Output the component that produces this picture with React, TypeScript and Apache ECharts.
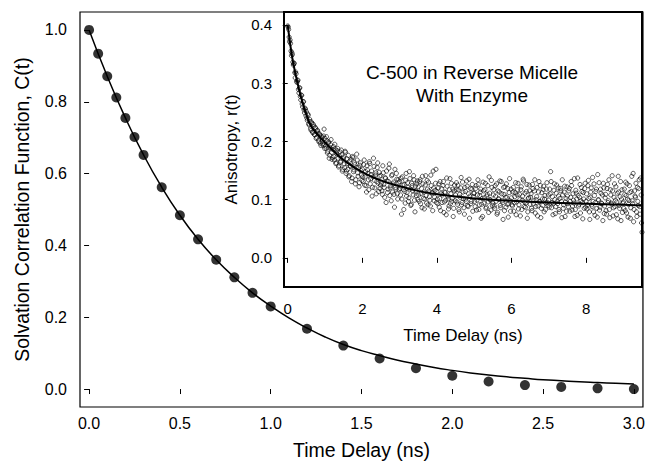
import React, { useEffect, useRef } from "react";
import * as echarts from "echarts";

// Main panel: solvation correlation function C(t)
const mainTimes = [0, 0.05, 0.1, 0.15, 0.2, 0.25, 0.3, 0.4, 0.5, 0.6, 0.7, 0.8, 0.9, 1.0, 1.2, 1.4, 1.6, 1.8, 2.0, 2.2, 2.4, 2.6, 2.8, 3.0];
const mainC = [1.0, 0.934, 0.871, 0.812, 0.755, 0.702, 0.652, 0.562, 0.484, 0.417, 0.36, 0.311, 0.268, 0.23, 0.168, 0.121, 0.085, 0.058, 0.037, 0.021, 0.011, 0.006, 0.002, 0.0];

const mainFitTimes = [0, 0.1, 0.2, 0.3, 0.4, 0.5, 0.6, 0.7, 0.8, 0.9, 1.0, 1.1, 1.2, 1.3, 1.4, 1.5, 1.6, 1.7, 1.8, 1.9, 2.0, 2.1, 2.2, 2.3, 2.4, 2.5, 2.6, 2.7, 2.8, 2.9, 3.0];
const mainFitC = [1.0, 0.871, 0.755, 0.652, 0.562, 0.484, 0.417, 0.36, 0.311, 0.268, 0.231, 0.198, 0.17, 0.145, 0.124, 0.107, 0.093, 0.08, 0.07, 0.06, 0.052, 0.045, 0.039, 0.034, 0.03, 0.026, 0.023, 0.02, 0.018, 0.016, 0.014];

const mainXTicks = [0, 0.5, 1.0, 1.5, 2.0, 2.5, 3.0];
const mainYTicks = [0, 0.2, 0.4, 0.6, 0.8, 1.0];

// Inset: anisotropy r(t), two interleaved sample sets, each every 0.025 ns
const anisoStep = 0.025;
const anisoStartA = 0;
const anisoStartB = 0.0125;
const anisoRA = [
  0.398, 0.392, 0.371, 0.368, 0.347, 0.349, 0.331, 0.334, 0.309, 0.316, 0.301, 0.305, 0.283, 0.292, 0.271, 0.279, 0.259, 0.268, 0.249, 0.255,
  0.251, 0.236, 0.245, 0.228, 0.234, 0.219, 0.231, 0.215, 0.226, 0.211, 0.222, 0.207, 0.219, 0.202, 0.213, 0.197, 0.209, 0.201, 0.193, 0.221,
  0.205, 0.188, 0.201, 0.183, 0.199, 0.176, 0.194, 0.181, 0.172, 0.191, 0.168, 0.187, 0.163, 0.184, 0.171, 0.158, 0.182, 0.166, 0.177, 0.152,
  0.173, 0.155, 0.181, 0.149, 0.162, 0.176, 0.141, 0.158, 0.169, 0.137, 0.172, 0.151, 0.16, 0.134, 0.178, 0.146, 0.155, 0.129, 0.163, 0.142,
  0.152, 0.131, 0.168, 0.139, 0.124, 0.158, 0.145, 0.117, 0.162, 0.136, 0.149, 0.121, 0.171, 0.133, 0.142, 0.11, 0.155, 0.128, 0.147, 0.119,
  0.141, 0.115, 0.158, 0.126, 0.104, 0.137, 0.149, 0.112, 0.131, 0.161, 0.12, 0.098, 0.143, 0.127, 0.109, 0.152, 0.118, 0.135, 0.101, 0.129,
  0.131, 0.108, 0.075, 0.139, 0.117, 0.126, 0.094, 0.145, 0.112, 0.121, 0.103, 0.136, 0.09, 0.128, 0.115, 0.141, 0.099, 0.123, 0.107, 0.132,
  0.122, 0.097, 0.134, 0.11, 0.086, 0.127, 0.113, 0.101, 0.141, 0.094, 0.118, 0.13, 0.105, 0.089, 0.124, 0.111, 0.149, 0.098, 0.116, 0.152,
  0.114, 0.093, 0.127, 0.102, 0.081, 0.119, 0.108, 0.131, 0.096, 0.112, 0.074, 0.123, 0.101, 0.089, 0.136, 0.11, 0.097, 0.118, 0.085, 0.125,
  0.108, 0.129, 0.092, 0.117, 0.079, 0.104, 0.138, 0.095, 0.113, 0.086, 0.121, 0.101, 0.132, 0.09, 0.11, 0.068, 0.119, 0.097, 0.126, 0.105,
  0.111, 0.088, 0.124, 0.099, 0.134, 0.083, 0.107, 0.118, 0.092, 0.071, 0.115, 0.103, 0.128, 0.087, 0.109, 0.096, 0.139, 0.1, 0.082, 0.121,
  0.094, 0.117, 0.085, 0.106, 0.127, 0.078, 0.101, 0.113, 0.09, 0.131, 0.098, 0.066, 0.109, 0.122, 0.087, 0.104, 0.119, 0.093, 0.136, 0.08,
  0.103, 0.089, 0.121, 0.095, 0.112, 0.074, 0.108, 0.128, 0.091, 0.1, 0.117, 0.083, 0.106, 0.132, 0.096, 0.087, 0.114, 0.068, 0.102, 0.125,
  0.092, 0.11, 0.081, 0.119, 0.098, 0.134, 0.088, 0.105, 0.072, 0.113, 0.096, 0.124, 0.085, 0.101, 0.117, 0.079, 0.107, 0.094, 0.129, 0.09,
  0.099, 0.118, 0.148, 0.086, 0.105, 0.093, 0.127, 0.076, 0.111, 0.097, 0.12, 0.083, 0.102, 0.115, 0.069, 0.108, 0.091, 0.123, 0.096, 0.08,
  0.106, 0.088, 0.119, 0.097, 0.131, 0.082, 0.11, 0.094, 0.071, 0.116, 0.101, 0.137, 0.089, 0.104, 0.077, 0.121, 0.095, 0.112, 0.085, 0.128,
  0.097, 0.084, 0.124, 0.102, 0.066, 0.113, 0.091, 0.138, 0.079, 0.107, 0.095, 0.118, 0.07, 0.1, 0.129, 0.087, 0.111, 0.093, 0.064, 0.12,
  0.089, 0.109, 0.075, 0.126, 0.098, 0.083, 0.117, 0.094, 0.141, 0.072, 0.104, 0.088, 0.122, 0.096, 0.067, 0.113, 0.085, 0.131, 0.101, 0.078,
  0.096, 0.118, 0.081, 0.107, 0.127, 0.07, 0.099, 0.112, 0.086, 0.14, 0.093, 0.062, 0.115, 0.104, 0.079, 0.121, 0.09, 0.134, 0.075, 0.108, 0.044,
];
const anisoRB = [
  0.396, 0.379, 0.374, 0.355, 0.352, 0.336, 0.333, 0.318, 0.319, 0.303, 0.304, 0.289, 0.291, 0.277, 0.279, 0.264, 0.268, 0.254, 0.257, 0.244,
  0.24, 0.247, 0.23, 0.238, 0.222, 0.233, 0.216, 0.229, 0.212, 0.224, 0.205, 0.218, 0.214, 0.199, 0.211, 0.193, 0.206, 0.196, 0.209, 0.188,
  0.192, 0.208, 0.18, 0.197, 0.171, 0.189, 0.203, 0.169, 0.186, 0.174, 0.195, 0.162, 0.179, 0.188, 0.156, 0.175, 0.164, 0.185, 0.149, 0.17,
  0.161, 0.183, 0.145, 0.17, 0.152, 0.139, 0.166, 0.157, 0.131, 0.174, 0.148, 0.163, 0.127, 0.155, 0.168, 0.14, 0.122, 0.159, 0.15, 0.133,
  0.139, 0.16, 0.125, 0.148, 0.113, 0.151, 0.134, 0.165, 0.127, 0.143, 0.106, 0.139, 0.157, 0.12, 0.146, 0.131, 0.163, 0.114, 0.14, 0.125,
  0.128, 0.109, 0.146, 0.121, 0.137, 0.095, 0.132, 0.118, 0.154, 0.107, 0.124, 0.141, 0.113, 0.13, 0.087, 0.121, 0.145, 0.11, 0.134, 0.117,
  0.119, 0.137, 0.101, 0.125, 0.083, 0.114, 0.133, 0.106, 0.129, 0.097, 0.148, 0.118, 0.092, 0.124, 0.108, 0.134, 0.079, 0.115, 0.127, 0.1,
  0.108, 0.131, 0.093, 0.119, 0.14, 0.102, 0.084, 0.125, 0.107, 0.133, 0.091, 0.115, 0.099, 0.142, 0.112, 0.081, 0.12, 0.104, 0.128, 0.095,
  0.101, 0.12, 0.087, 0.131, 0.11, 0.095, 0.124, 0.078, 0.113, 0.099, 0.137, 0.106, 0.084, 0.117, 0.093, 0.128, 0.102, 0.071, 0.115, 0.098,
  0.117, 0.096, 0.125, 0.083, 0.109, 0.12, 0.091, 0.13, 0.102, 0.075, 0.114, 0.097, 0.123, 0.088, 0.135, 0.106, 0.093, 0.118, 0.08, 0.111,
  0.097, 0.119, 0.082, 0.108, 0.126, 0.091, 0.113, 0.068, 0.102, 0.13, 0.094, 0.117, 0.085, 0.106, 0.124, 0.078, 0.111, 0.099, 0.133, 0.09,
  0.108, 0.089, 0.124, 0.097, 0.075, 0.115, 0.101, 0.132, 0.086, 0.11, 0.095, 0.121, 0.081, 0.104, 0.127, 0.092, 0.07, 0.112, 0.098, 0.118,
  0.091, 0.113, 0.08, 0.105, 0.129, 0.096, 0.117, 0.084, 0.109, 0.072, 0.122, 0.099, 0.135, 0.088, 0.111, 0.094, 0.126, 0.079, 0.103, 0.115,
  0.104, 0.085, 0.126, 0.093, 0.115, 0.077, 0.1, 0.121, 0.089, 0.131, 0.097, 0.069, 0.112, 0.09, 0.123, 0.101, 0.083, 0.118, 0.095, 0.108,
  0.087, 0.11, 0.131, 0.095, 0.074, 0.116, 0.1, 0.088, 0.125, 0.093, 0.106, 0.079, 0.119, 0.097, 0.134, 0.085, 0.113, 0.071, 0.102, 0.122,
  0.093, 0.115, 0.08, 0.104, 0.124, 0.089, 0.099, 0.136, 0.083, 0.111, 0.073, 0.107, 0.092, 0.126, 0.098, 0.114, 0.067, 0.101, 0.119, 0.087,
  0.11, 0.091, 0.133, 0.079, 0.104, 0.12, 0.088, 0.097, 0.127, 0.073, 0.114, 0.085, 0.143, 0.099, 0.082, 0.118, 0.094, 0.108, 0.128, 0.076,
  0.103, 0.081, 0.119, 0.095, 0.134, 0.069, 0.108, 0.092, 0.115, 0.086, 0.127, 0.099, 0.074, 0.111, 0.14, 0.09, 0.105, 0.064, 0.117, 0.094,
  0.085, 0.109, 0.13, 0.077, 0.101, 0.092, 0.124, 0.068, 0.114, 0.098, 0.145, 0.083, 0.106, 0.128, 0.071, 0.097, 0.119, 0.088, 0.137, 0.06,
];

const anisoFitTimes = [0, 0.1, 0.2, 0.3, 0.4, 0.5, 0.6, 0.8, 1.0, 1.2, 1.5, 2.0, 2.5, 3.0, 3.5, 4.0, 5.0, 6.0, 7.0, 8.0, 9.0, 9.5];
const anisoFitR = [0.4, 0.352, 0.318, 0.29, 0.266, 0.246, 0.229, 0.212, 0.198, 0.185, 0.168, 0.147, 0.133, 0.123, 0.115, 0.109, 0.102, 0.098, 0.095, 0.093, 0.091, 0.09];

const insetXTicks = [0, 2, 4, 6, 8];
const insetYTicks = [0, 0.1, 0.2, 0.3, 0.4];

const FONT = "'Liberation Sans', Arial, Helvetica, sans-serif";

export default function App() {
  const ref = useRef<HTMLDivElement>(null);

  useEffect(() => {
    if (!ref.current) return;
    const chart = echarts.init(ref.current, undefined, { renderer: "svg" });

    const mainPts = mainTimes.map((t, i) => [t, mainC[i]]);
    const mainFit = mainFitTimes.map((t, i) => [t, mainFitC[i]]);
    const anisoPts = [
      ...anisoRA.map((r, i) => [anisoStartA + i * anisoStep, r]),
      ...anisoRB.map((r, i) => [anisoStartB + i * anisoStep, r]),
    ];
    const anisoFit = anisoFitTimes.map((t, i) => [t, anisoFitR[i]]);

    const tickStyle = { color: "#000", width: 1 };

    chart.setOption({
      animation: false,
      backgroundColor: "#fff",
      textStyle: { fontFamily: FONT, color: "#000" },
      grid: [
        {
          left: 80, top: 12, width: 563, height: 395,
          show: true, borderColor: "#000", borderWidth: 1.2, backgroundColor: "#fff",
          containLabel: false,
        },
        {
          left: 284, top: 12, width: 358, height: 275,
          show: true, borderColor: "#000", borderWidth: 2, backgroundColor: "#fff",
          containLabel: false, z: 5,
        },
      ],
      xAxis: [
        {
          type: "value", gridIndex: 0, min: -0.05, max: 3.05,
          splitLine: { show: false },
          axisLine: { show: false },
          axisTick: { show: true, inside: false, length: 5, lineStyle: tickStyle, customValues: mainXTicks },
          axisLabel: {
            show: true, margin: 8, fontSize: 16, color: "#000", fontFamily: FONT,
            customValues: mainXTicks, formatter: (v: number) => v.toFixed(1),
          },
          name: "Time Delay (ns)", nameLocation: "middle", nameGap: 33,
          nameTextStyle: { fontSize: 19.5, color: "#000", fontFamily: FONT },
        },
        {
          type: "value", gridIndex: 1, min: -0.1, max: 9.5, z: 6,
          splitLine: { show: false },
          axisLine: { show: false },
          axisTick: { show: true, inside: false, length: 5, lineStyle: tickStyle, customValues: insetXTicks },
          axisLabel: {
            show: true, margin: 14, fontSize: 15, color: "#000", fontFamily: FONT,
            customValues: insetXTicks, formatter: (v: number) => String(v),
          },
          name: "Time Delay (ns)", nameLocation: "middle", nameGap: 40,
          nameTextStyle: { fontSize: 17, color: "#000", fontFamily: FONT },
        },
      ],
      yAxis: [
        {
          type: "value", gridIndex: 0, min: -0.05, max: 1.05,
          splitLine: { show: false },
          axisLine: { show: false },
          axisTick: { show: true, inside: false, length: 5, lineStyle: tickStyle, customValues: mainYTicks },
          axisLabel: {
            show: true, margin: 13, fontSize: 16, color: "#000", fontFamily: FONT,
            customValues: mainYTicks, formatter: (v: number) => v.toFixed(1),
          },
          name: "Solvation Correlation Function, C(t)", nameLocation: "middle", nameGap: 48,
          nameTextStyle: { fontSize: 19.5, color: "#000", fontFamily: FONT },
        },
        {
          type: "value", gridIndex: 1, min: -0.05, max: 0.422, z: 6,
          splitLine: { show: false },
          axisLine: { show: false },
          axisTick: { show: true, inside: false, length: 5, lineStyle: tickStyle, customValues: insetYTicks },
          axisLabel: {
            show: true, margin: 12, fontSize: 15, color: "#000", fontFamily: FONT,
            customValues: insetYTicks, formatter: (v: number) => v.toFixed(1),
          },
          name: "Anisotropy, r(t)", nameLocation: "middle", nameGap: 43,
          nameTextStyle: { fontSize: 17, color: "#000", fontFamily: FONT },
        },
      ],
      graphic: [
        {
          type: "text", x: 472, y: 61, z: 100,
          style: {
            text: "C-500 in Reverse Micelle\nWith Enzyme",
            textAlign: "center", fontSize: 19, lineHeight: 23,
            fontFamily: FONT, fill: "#000",
          },
        },
      ],
      series: [
        {
          type: "line", xAxisIndex: 0, yAxisIndex: 0, data: mainFit,
          smooth: true, showSymbol: false, symbol: "none",
          lineStyle: { color: "#000", width: 1.5 }, z: 2,
        },
        {
          type: "scatter", xAxisIndex: 0, yAxisIndex: 0, data: mainPts,
          symbol: "circle", symbolSize: 10,
          itemStyle: { color: "#000" }, z: 3,
        },
        {
          type: "scatter", xAxisIndex: 1, yAxisIndex: 1, data: anisoPts,
          symbol: "circle", symbolSize: 4.2, large: false,
          itemStyle: { color: "rgba(255,255,255,0)", borderColor: "#000", borderWidth: 0.8 },
          z: 10,
        },
        {
          type: "line", xAxisIndex: 1, yAxisIndex: 1, data: anisoFit,
          smooth: true, showSymbol: false, symbol: "none",
          lineStyle: { color: "#000", width: 2 }, z: 11,
        },
      ],
    });

    return () => chart.dispose();
  }, []);

  return (
    <div
      ref={ref}
      style={{ position: "fixed", left: 0, top: 0, width: 648, height: 473, background: "#fff" }}
    />
  );
}
